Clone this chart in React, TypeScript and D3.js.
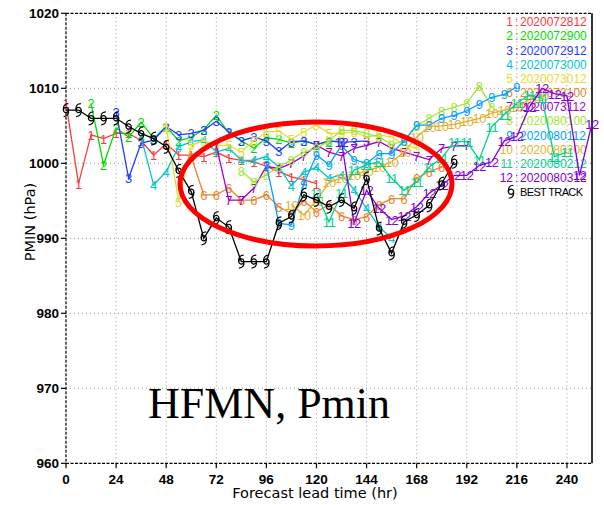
import React from "react"
import * as d3 from "d3"

// forecast runs: init time offsets (hr) and labels
const runInit = [0, 12, 24, 36, 48, 60, 72, 84, 96, 108, 120, 132]
const runLabels = [
  "2020072812", "2020072900", "2020072912", "2020073000", "2020073012", "2020073100",
  "2020073112", "2020080100", "2020080112", "2020080200", "2020080212", "2020080312",
]
const runColors = [
  "#fa3c3c", "#00dc00", "#1e3cff", "#00c8c8", "#e6dc32", "#f08228",
  "#a000c8", "#a0e632", "#00a0ff", "#e6af2d", "#00d28c", "#8200dc",
]
// 6-hourly PMIN for each run (hPa)
const run1 = [1008.0, 997.3, 1003.8, 1003.3, 1004.0, 1004.0, 1003.0, 1001.1, 1002.6, 1001.1, 1001.1, 1000.9, 1001.5, 1000.7, 1000.4, 1000.2, 999.6, 998.9, 998.2, 997.8, 997.3]
const run2 = [1008.0, 999.8, 1004.7, 1003.5, 1005.5, 1003.3, 1004.9, 1003.0, 1003.5, 1004.5, 1006.4, 1004.0, 1003.0, 1002.0, 1003.4, 1003.2, 1002.7, 1003.0, 1002.5, 1002.9, 1003.0]
const run3 = [1006.9, 998.0, 1002.7, 1003.1, 1004.9, 1003.8, 1004.0, 1004.4, 1005.6, 1004.2, 1003.0, 1003.5, 1003.0, 1001.6, 1002.9, 1003.0, 1002.5, 1003.0, 1002.8, 1002.9, 1003.0]
const run4 = [1003.5, 997.1, 998.9, 1002.2, 1002.9, 1003.1, 1001.5, 1002.0, 1000.4, 1000.4, 1000.9, 999.5, 997.0, 998.8, 999.5, 998.0, 998.5, 996.5, 994.0, 991.5, 990.0]
const run5 = [1004.9, 994.9, 1002.4, 1003.0, 1002.4, 1002.4, 1001.5, 1003.0, 1004.2, 1004.3, 1003.2, 1004.2, 1005.1, 1004.0, 1004.0, 1004.2, 1003.5, 1003.8, 1003.5, 1002.5, 1002.0]
const run6 = [1000.9, 995.8, 995.8, 996.7, 995.1, 995.1, 995.8, 994.2, 993.3, 995.0, 993.5, 994.5, 993.0, 992.5, 992.9, 994.5, 995.3, 995.3, 998.0, 998.9, 999.5]
const run7 = [1002.4, 995.1, 995.1, 996.7, 999.6, 999.3, 1000.0, 1001.0, 1002.4, 1001.5, 1001.0, 1002.0, 1002.4, 1002.9, 1002.0, 1001.5, 1001.0, 1000.5, 1002.0, 1002.3, 1002.4]
const run8 = [999.0, 997.5, 998.5, 999.5, 1000.5, 1001.5, 1002.0, 1003.0, 1004.4, 1004.4, 1004.0, 1003.5, 1002.5, 1003.0, 1005.0, 1006.0, 1007.0, 1007.5, 1008.0, 1010.3, 1007.5]
const run9 = [999.8, 992.0, 991.8, 997.3, 1001.1, 999.8, 1002.4, 1000.5, 1000.0, 1001.3, 1001.3, 1003.0, 1005.1, 1005.1, 1006.0, 1006.4, 1007.0, 1007.9, 1008.8, 1009.2, 1010.2]
const run10 = [994.5, 993.1, 995.0, 997.5, 998.0, 998.5, 999.0, 999.5, 1000.2, 1001.5, 1003.5, 1004.9, 1005.0, 1005.2, 1005.6, 1006.0, 1006.7, 1007.1, 1007.5, 1008.5, 1009.0]
const run11 = [996.0, 992.2, 996.0, 999.1, 999.8, 1000.2, 998.0, 996.4, 997.5, 999.5, 1000.7, 1002.9, 1002.9, 1000.5, 1004.9, 1006.5, 1008.0, 1009.1, 1008.7, 1000.9, 1001.5]
const run12 = [1002.9, 992.0, 996.4, 994.0, 992.5, 993.0, 994.2, 996.0, 997.1, 998.4, 998.4, 999.7, 1000.2, 1003.0, 1003.6, 1007.5, 1010.0, 1009.3, 1009.0, 998.4, 1005.3]
const runs = [run1, run2, run3, run4, run5, run6, run7, run8, run9, run10, run11, run12]

// best track, 6-hourly from 0 hr
const bestTrack = [1007.1, 1007.1, 1006.0, 1006.0, 1006.0, 1004.9, 1004.0, 1003.3, 1002.2, 999.0, 996.2, 990.0, 992.7, 991.5, 986.9, 986.9, 986.9, 992.0, 992.9, 995.8, 995.1, 994.2, 995.1, 994.0, 998.0, 991.3, 988.0, 992.2, 993.1, 994.4, 997.3, 1000.2]

const xTicks = [0, 24, 48, 72, 96, 120, 144, 168, 192, 216, 240]
const yTicks = [960, 970, 980, 990, 1000, 1010, 1020]

const W = 604
const H = 505
const left = 66, right = 592, top = 13.3, bottom = 463.3

const x = d3.scaleLinear().domain([0, 252]).range([left, right])
const y = d3.scaleLinear().domain([960, 1020]).range([bottom, top])

type Pt = { h: number; p: number }
const line = d3.line<Pt>().x((d) => x(d.h)).y((d) => y(d.p))

const tickFont = "'Liberation Sans Narrow', 'Liberation Sans', sans-serif"
const markFont = "'Liberation Sans', sans-serif"

function TcSymbol({ cx, cy }: { cx: number; cy: number }) {
  return (
    <g transform={`translate(${cx},${cy})`} fill="none" stroke="#000" strokeWidth={1.2}>
      <circle r={2.6} />
      <path d="M -2.6,0 C -3,-4.5 -1,-6.5 2.4,-6.5" />
      <path d="M 2.6,0 C 3,4.5 1,6.5 -2.4,6.5" />
    </g>
  )
}

export default function App() {
  const series = runs.map((vals, i) =>
    vals.map((p, j) => ({ h: runInit[i] + j * 6, p })),
  )
  const bt = bestTrack.map((p, j) => ({ h: j * 6, p }))

  return (
    <svg
      width={W}
      height={H}
      style={{ position: "absolute", left: 0, top: 0, background: "#fff" }}
    >
      <rect width={W} height={H} fill="#fff" />

      {/* dotted grid */}
      {xTicks.slice(1).map((t) => (
        <line key={"gx" + t} x1={x(t)} x2={x(t)} y1={top} y2={bottom}
          stroke="#999" strokeWidth={1} strokeDasharray="1,3" />
      ))}
      {yTicks.slice(1, -1).map((t) => (
        <line key={"gy" + t} x1={left} x2={right} y1={y(t)} y2={y(t)}
          stroke="#999" strokeWidth={1} strokeDasharray="1,3" />
      ))}

      {/* frame */}
      <line x1={left} x2={right} y1={top} y2={top} stroke="#000" strokeWidth={1.2} strokeDasharray="3,1.5" />
      <line x1={left} x2={right} y1={bottom} y2={bottom} stroke="#000" strokeWidth={1.2} strokeDasharray="3,1.5" />
      <line x1={left} x2={left} y1={top} y2={bottom} stroke="#000" strokeWidth={1.2} strokeDasharray="3,1.5" />
      <line x1={right} x2={right} y1={top} y2={bottom} stroke="#000" strokeWidth={1.6} />

      {/* ticks + labels */}
      {yTicks.map((t) => (
        <g key={"yt" + t}>
          <line x1={left - 5} x2={left} y1={y(t)} y2={y(t)} stroke="#000" strokeWidth={1.2} />
          <text x={left - 7} y={y(t) + 5} textAnchor="end" fontFamily={tickFont}
            fontWeight="bold" fontSize={13.5}>{t}</text>
        </g>
      ))}
      {xTicks.map((t) => (
        <g key={"xt" + t}>
          <line x1={x(t)} x2={x(t)} y1={bottom} y2={bottom + 5} stroke="#000" strokeWidth={1.2} />
          <text x={x(t)} y={bottom + 21} textAnchor="middle" fontFamily={tickFont}
            fontWeight="bold" fontSize={13.5}>{t}</text>
        </g>
      ))}
      <text x={315} y={498} textAnchor="middle" fontFamily="'DejaVu Sans', sans-serif"
        fontSize={14.5}>Forecast lead time (hr)</text>
      <text transform={`translate(35,222) rotate(-90)`} textAnchor="middle"
        fontFamily="'DejaVu Sans', sans-serif" fontSize={14.5}>PMIN (hPa)</text>

      {/* legend */}
      {runLabels.map((lab, i) => (
        <g key={"lg" + i} fontFamily={markFont} fontSize={12} fill={runColors[i]}>
          <text x={513} y={21.7 + i * 14.17 + 4.5} textAnchor="end">{i + 1}</text>
          <text x={515} y={21.7 + i * 14.17 + 4.5}>:</text>
          <text x={520} y={21.7 + i * 14.17 + 4.5}>{lab}</text>
        </g>
      ))}
      <TcSymbol cx={511} cy={21.7 + 12 * 14.17} />
      <text x={520} y={21.7 + 12 * 14.17 + 4.5} fontFamily={markFont} fontSize={11}
        textLength={63} fill="#000">BEST TRACK</text>

      {/* forecast runs */}
      {series.map((pts, i) => (
        <g key={"run" + i}>
          <path d={line(pts) ?? ""} fill="none" stroke={runColors[i]} strokeWidth={1.3} />
          {pts.map((d, j) => (
            <text key={j} x={x(d.h)} y={y(d.p) + 5} textAnchor="middle" fontFamily={markFont}
              fontSize={13} letterSpacing={i >= 9 ? -0.5 : 0} fill={runColors[i]}>{i + 1}</text>
          ))}
        </g>
      ))}

      {/* best track */}
      <path d={line(bt) ?? ""} fill="none" stroke="#000" strokeWidth={1.3} />
      {bt.map((d, j) => (
        <TcSymbol key={"bt" + j} cx={x(d.h)} cy={y(d.p)} />
      ))}

      {/* highlight ellipse */}
      <ellipse cx={316} cy={184} rx={136} ry={62} fill="none" stroke="#f00" strokeWidth={5} />

      <text x={148} y={418} fontFamily="'Liberation Serif', 'Times New Roman', serif"
        fontSize={44}>HFMN, Pmin</text>
    </svg>
  )
}
